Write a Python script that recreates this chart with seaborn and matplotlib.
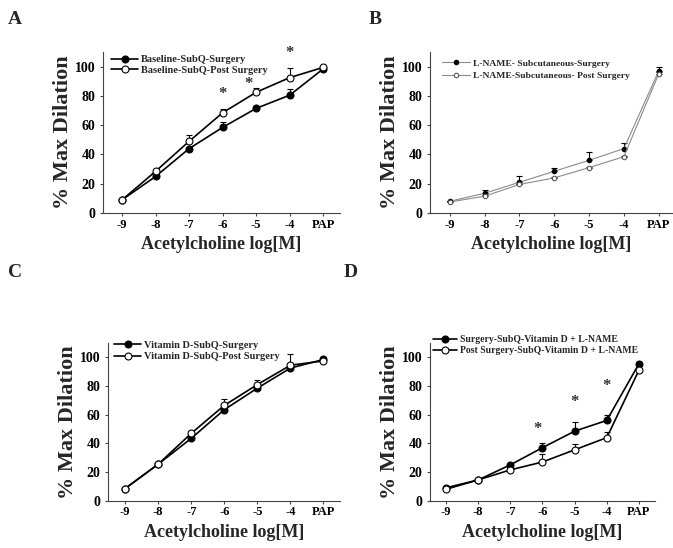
import numpy as np
import pandas as pd
import matplotlib
matplotlib.use("Agg")
import matplotlib.pyplot as plt
import seaborn as sns

sns.set_style("ticks")
plt.rcParams["font.family"] = ["Liberation Serif", "DejaVu Serif"]
plt.rcParams["font.weight"] = "bold"
plt.rcParams["axes.labelweight"] = "bold"

# Concentration steps shared by every panel
categories = ["-9", "-8", "-7", "-6", "-5", "-4", "PAP"]

# Panel A
a_labels = ["Baseline-SubQ-Surgery", "Baseline-SubQ-Post Surgery"]
a_surgery = [9, 25, 44, 58.5, 71.5, 80.5, 98.5]
a_post = [9, 28.5, 49, 68.5, 82.5, 92.5, 99.5]
a_surgery_err = [0, 1, 1, 4, 1.5, 4.5, 1]
a_post_err = [0, 1, 4, 2.5, 3, 6.5, 0.5]
a_stars = [(3.0, 81), (3.76, 88), (5.0, 109)]

# Panel B
b_labels = ["L-NAME- Subcutaneous-Surgery", "L-NAME-Subcutaneous- Post Surgery"]
b_surgery = [8, 13.5, 21, 28.5, 36, 44, 97]
b_post = [7.5, 11.5, 19.5, 24, 31, 38.5, 95]
b_surgery_err = [0.5, 2.5, 4.5, 2, 5.5, 4, 3]
b_post_err = [0.5, 0.5, 0.5, 0.5, 0.5, 0.5, 1]

# Panel C
c_labels = ["Vitamin D-SubQ-Surgery", "Vitamin D-SubQ-Post Surgery"]
c_surgery = [8.5, 25.5, 43.5, 63.5, 78.5, 92.5, 98.5]
c_post = [8.5, 25.5, 47, 66.5, 81, 94.5, 97.5]
c_surgery_err = [0.5, 0.5, 1, 1, 1, 1, 1.5]
c_post_err = [0.5, 0.5, 1.5, 4.5, 3.5, 7.5, 3]

# Panel D
d_labels = ["Surgery-SubQ-Vitamin D + L-NAME", "Post Surgery-SubQ-Vitamin D + L-NAME"]
d_surgery = [9, 14.5, 25, 37, 48.5, 56, 95.5]
d_post = [8, 14.5, 21.5, 27, 35.5, 44, 91]
d_surgery_err = [0.5, 0.5, 1, 3, 6.5, 4, 1]
d_post_err = [0.5, 0.5, 1, 5.5, 4, 4, 1]
d_stars = [(2.85, 50), (4.0, 69), (5.0, 80)]

W, H = 673, 548
fig = plt.figure(figsize=(W / 100, H / 100), dpi=100)


def add_axes_px(left, right, top, bottom):
    return fig.add_axes([left / W, (H - bottom) / H, (right - left) / W, (bottom - top) / H])


def draw_panel(ax, surgery, post, s_err, p_err, labels, xlim, line_color, lw, ms,
               legend_xy, legend_fs, legend_spacing, handlelen, stars=()):
    x = np.arange(len(categories))
    for vals, err in ((surgery, s_err), (post, p_err)):
        ax.errorbar(x, vals, yerr=[np.zeros(len(err)), err], fmt="none",
                    ecolor="black", elinewidth=0.8, capsize=2, capthick=0.8, zorder=1)
    df = pd.DataFrame({"x": np.concatenate([x, x]),
                       "y": np.concatenate([surgery, post]),
                       "group": [labels[0]] * len(x) + [labels[1]] * len(x)})
    sns.lineplot(data=df[df.group == labels[0]], x="x", y="y", ax=ax, color=line_color,
                 linewidth=lw, marker="o", markersize=ms, markerfacecolor="black",
                 markeredgecolor="black", markeredgewidth=0.8, label=labels[0], zorder=2,
                 legend=False)
    sns.lineplot(data=df[df.group == labels[1]], x="x", y="y", ax=ax, color=line_color,
                 linewidth=lw, marker="o", markersize=ms, markerfacecolor="white",
                 markeredgecolor="black" if line_color == "black" else "#555555",
                 markeredgewidth=0.8, label=labels[1], zorder=3, legend=False)
    for sx, sy in stars:
        ax.text(sx, sy, "*", ha="center", va="center", fontsize=12, color="#333333")

    ax.set_xlim(*xlim)
    ax.set_ylim(0, 110)
    ax.set_xticks(x)
    ax.set_xticklabels(categories)
    ax.set_yticks(np.arange(0, 101, 20))
    sns.despine(ax=ax)
    for sp in ("left", "bottom"):
        ax.spines[sp].set_linewidth(0.8)
        ax.spines[sp].set_color("#444444")
    ax.tick_params(axis="x", length=2.5, width=0.8, pad=1.5, labelsize=9, colors="#444444",
                   labelcolor="black")
    ax.tick_params(axis="y", length=2.5, width=0.8, pad=3, labelsize=10, colors="#444444",
                   labelcolor="black")
    for t in ax.get_xticklabels() + ax.get_yticklabels():
        t.set_fontweight("bold")
    ax.set_xlabel("Acetylcholine log[M]", fontsize=13, fontweight="bold", labelpad=4)
    ax.set_ylabel("% Max Dilation", fontsize=16, fontweight="bold", labelpad=1)

    leg = ax.legend(loc="upper left", bbox_to_anchor=(legend_xy[0] / W, 1 - legend_xy[1] / H),
                    bbox_transform=fig.transFigure, frameon=False, borderpad=0,
                    borderaxespad=0, handlelength=handlelen, handletextpad=0.3,
                    labelspacing=legend_spacing, prop={"family": "Liberation Serif",
                                                       "weight": "bold", "size": legend_fs})
    return leg


axA = add_axes_px(103, 340, 52, 213)
draw_panel(axA, a_surgery, a_post, a_surgery_err, a_post_err, a_labels, (-0.57, 6.5),
           "black", 1.2, 5, (111, 55), 7.5, 0.15, 2.6, a_stars)

axB = add_axes_px(430, 672.6, 52, 213)
draw_panel(axB, b_surgery, b_post, b_surgery_err, b_post_err, b_labels, (-0.57, 6.4),
           "#8a8a8a", 0.8, 3.2, (442, 59), 6.8, 0.38, 3.0)

axC = add_axes_px(108, 340, 343, 500.7)
draw_panel(axC, c_surgery, c_post, c_surgery_err, c_post_err, c_labels, (-0.52, 6.5),
           "black", 1.2, 5, (114, 340.5), 7.5, 0.2, 2.6)

axD = add_axes_px(430, 655, 343, 500.7)
draw_panel(axD, d_surgery, d_post, d_surgery_err, d_post_err, d_labels, (-0.5, 6.5),
           "black", 1.2, 5, (433, 335.5), 7.0, 0.2, 2.5, d_stars)

# Panel letters
for letter, (px, py) in {"A": (8, 20), "B": (369, 20), "C": (8, 272), "D": (344, 272)}.items():
    fig.text(px / W, 1 - py / H, letter, fontsize=14, fontweight="bold",
             family="Liberation Serif", va="center", ha="left")

fig.savefig("out.png", dpi=100)
